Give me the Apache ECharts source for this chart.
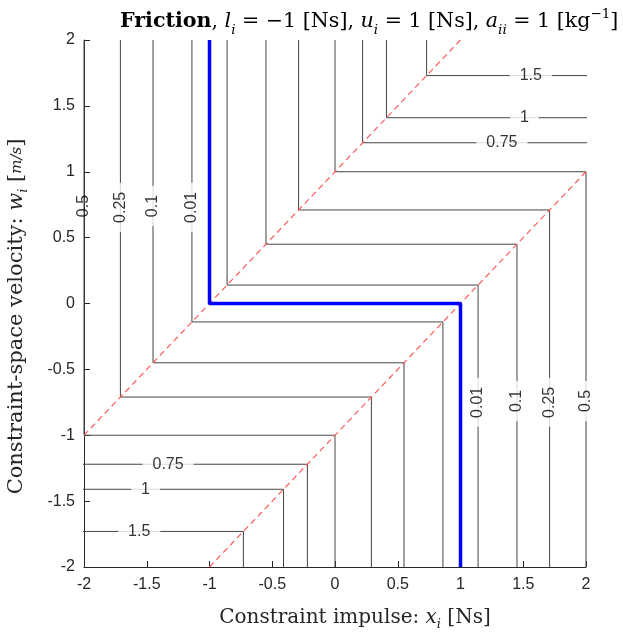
<!DOCTYPE html>
<html>
<head>
<meta charset="utf-8">
<script src="https://cdn.jsdelivr.net/npm/echarts@6/dist/echarts.min.js"></script>
<style>
  html, body { margin: 0; padding: 0; background: #fff; }
  #chart { width: 623px; height: 632px; }
</style>
</head>
<body>
<div id="chart"></div>
<script>
// 约束力-速度平面上的摩擦互补残差等值线

// 数据：等值线标签与其到零水平集的距离
const levelLabels = ['0.01', '0.1', '0.25', '0.5', '0.75', '1', '1.5']
const levelOffsets = [0.14, 0.45, 0.71, 1.0, 1.22, 1.41, 1.73]

// 零水平集（蓝色粗线）
const zeroLevel = [[-1, 2], [-1, 0], [1, 0], [1, -2]]

// 红色虚线：x - w = l 与 x - w = u
const switchLines = [
  [[-2, -1], [1, 2]],
  [[-1, -2], [2, 1]]
]

// 等值线标注位置 [x, w, 文本, 旋转角]
const labelX = [-2, -1.71, -1.45, -1.14, 1.14, 1.45, 1.71, 2, 1.56, 1.51, 1.33, -1.33, -1.51, -1.56]
const labelW = [0.74, 0.73, 0.74, 0.73, -0.75, -0.74, -0.75, -0.74, 1.73, 1.41, 1.22, -1.22, -1.41, -1.73]
const labelText = ['0.5', '0.25', '0.1', '0.01', '0.01', '0.1', '0.25', '0.5', '1.5', '1', '0.75', '0.75', '1', '1.5']
const labelRotate = [90, 90, 90, 90, 90, 90, 90, 90, 0, 0, 0, 0, 0, 0]

const axisColor = '#262626'
const serif = 'DejaVu Serif'
const sans = 'Liberation Sans'

// 每个等值水平对应两条折线（左上分支与右下分支）
function contourSeries() {
  const out = []
  levelOffsets.forEach((d, k) => {
    const a = [[-1 - d, 2], [-1 - d, -d], [1 - d, -d], [1 - d, -2]]
    const b = [[-1 + d, 2], [-1 + d, d], [1 + d, d], [1 + d, -2]]
    ;[a, b].forEach(pts => out.push({
      type: 'line', name: levelLabels[k], data: pts, symbol: 'none', clip: true,
      lineStyle: { color: '#444444', width: 1 }, z: 2, silent: true
    }))
  })
  return out
}

function labelSeries() {
  const data = labelX.map((x, i) => ({
    value: [x, labelW[i]],
    label: {
      show: true, formatter: labelText[i], rotate: labelRotate[i],
      position: 'inside',
      backgroundColor: (i === 0) ? 'transparent' : '#ffffff',
      padding: labelRotate[i] ? [0, 9, 0, 9] : [0, 10, 0, 10]
    }
  }))
  return {
    type: 'scatter', data, symbolSize: 0, z: 5, silent: true,
    label: { color: '#000', fontFamily: sans, fontSize: 16, lineHeight: 16 }
  }
}

const chart = echarts.init(document.getElementById('chart'), null, { renderer: 'canvas' })

const titleText = '{b|Friction}{n|, }{i|l}{sub|i}{n| = \u22121 [Ns], }{i|u}{sub|i}{n| = 1 [Ns], }{i|a}{sub|ii}{n| = 1 [kg}{sup|\u22121}{n|]}'

function txt(size, extra) {
  return Object.assign({ fontFamily: serif, fontSize: size, fontWeight: 'normal', color: '#000' }, extra || {})
}

chart.setOption({
  animation: false,
  backgroundColor: '#fff',
  title: {
    text: titleText, left: 115, top: 2,
    textStyle: {
      fontWeight: 'normal',
      rich: {
        b: txt(20.6, { fontWeight: 'bold', lineHeight: 30 }),
        n: txt(20.6, { lineHeight: 30 }),
        i: txt(20.6, { fontStyle: 'italic', lineHeight: 30 }),
        sub: txt(13.5, { fontStyle: 'italic', verticalAlign: 'bottom', lineHeight: 15 }),
        sup: txt(13.5, { verticalAlign: 'top', lineHeight: 15 })
      }
    }
  },
  grid: { left: 84, right: 37, top: 40, bottom: 65, outerBoundsMode: 'none', containLabel: false },
  xAxis: {
    type: 'value', min: -2, max: 2, interval: 0.5,
    name: '{n|Constraint impulse: }{i|x}{s|i}{n| [Ns]}',
    nameLocation: 'middle', nameGap: 38,
    nameTextStyle: {
      padding: [0, 0, 0, 40],
      rich: {
        n: txt(20, { color: '#262626', lineHeight: 26 }),
        i: txt(20, { fontStyle: 'italic', color: '#262626', lineHeight: 26 }),
        s: txt(13, { fontStyle: 'italic', color: '#262626', verticalAlign: 'bottom', lineHeight: 14 })
      }
    },
    axisLine: { onZero: false, lineStyle: { color: axisColor, width: 1 } },
    axisTick: { inside: true, length: 6, lineStyle: { color: axisColor } },
    axisLabel: { color: axisColor, fontFamily: sans, fontSize: 16, margin: 10 },
    splitLine: { show: false }
  },
  yAxis: {
    type: 'value', min: -2, max: 2, interval: 0.5,
    name: '{n|Constraint-space velocity: }{i|w}{s|i}{n| [}{f|m/s}{n|]}',
    nameLocation: 'middle', nameGap: 54,
    nameTextStyle: {
      padding: [0, 26, 0, 0],
      rich: {
        n: txt(21, { color: '#262626', lineHeight: 26 }),
        i: txt(21, { fontStyle: 'italic', color: '#262626', lineHeight: 26 }),
        s: txt(13, { fontStyle: 'italic', color: '#262626', verticalAlign: 'bottom', lineHeight: 14 }),
        f: txt(15, { fontStyle: 'italic', color: '#262626', lineHeight: 26 })
      }
    },
    axisLine: { onZero: false, lineStyle: { color: axisColor, width: 1 } },
    axisTick: { inside: true, length: 6, lineStyle: { color: axisColor } },
    axisLabel: { color: axisColor, fontFamily: sans, fontSize: 16, margin: 9 },
    splitLine: { show: false }
  },
  series: [
    ...contourSeries(),
    ...switchLines.map(pts => ({
      type: 'line', data: pts, symbol: 'none', silent: true, z: 3,
      lineStyle: { color: '#ff5c5c', width: 1.2, type: [6, 4] }
    })),
    {
      type: 'line', name: '0', data: zeroLevel, symbol: 'none', silent: true, z: 4,
      lineStyle: { color: '#0000ff', width: 3.5 }
    },
    labelSeries()
  ]
})
</script>
</body>
</html>
